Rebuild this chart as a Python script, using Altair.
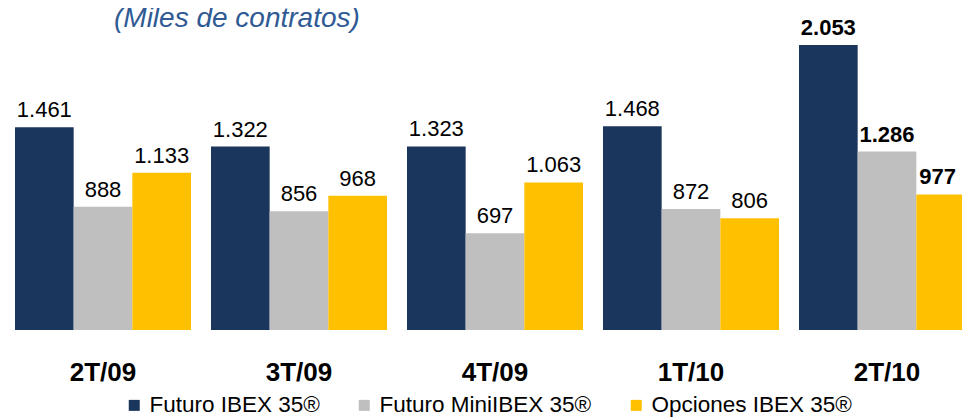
import altair as alt
import pandas as pd

quarters = ["2T/09", "3T/09", "4T/09", "1T/10", "2T/10"]
series = ["Futuro IBEX 35®", "Futuro MiniIBEX 35®", "Opciones IBEX 35®"]
futuro = [1461, 1322, 1323, 1468, 2053]
mini = [888, 856, 697, 872, 1286]
opciones = [1133, 968, 1063, 806, 977]
colors = ["#1B365D", "#BFBFBF", "#FFC000"]
bold_quarter = "2T/10"
subtitle = "(Miles de contratos)"

FONT = "Liberation Sans"

rows = []
for i, q in enumerate(quarters):
    for s, vals in zip(series, [futuro, mini, opciones]):
        v = vals[i]
        rows.append(dict(q=q, s=s, v=v,
                         label=f"{v:,}".replace(",", "."),
                         b=(q == bold_quarter),
                         edge=(q == bold_quarter and s == series[-1])))
df = pd.DataFrame(rows)

x = alt.X("q:N", sort=quarters, title=None,
          scale=alt.Scale(range=[7, 967], paddingInner=20 / 196, paddingOuter=0),
          axis=alt.Axis(domain=False, ticks=False, labelPadding=29, labelAngle=0,
                        labelFont=FONT, labelFontSize=26, labelFontWeight="bold",
                        labelColor="#000000"))
xo = alt.XOffset("s:N", sort=series, scale=alt.Scale(paddingInner=0, paddingOuter=0))
y = alt.Y("v:Q", title=None, scale=alt.Scale(domain=[0, 2320], nice=False),
          axis=None)

base = alt.Chart(df)

bars = base.mark_bar().encode(
    x=x, xOffset=xo, y=y,
    color=alt.Color("s:N", sort=series,
                    scale=alt.Scale(domain=series, range=colors),
                    legend=alt.Legend(title=None, orient="none", legendX=115, legendY=386,
                                      direction="horizontal", columns=3,
                                      symbolType="square", symbolSize=121,
                                      symbolStrokeWidth=0, columnPadding=33,
                                      labelOffset=4, labelFont=FONT, labelFontSize=22.5,
                                      labelLimit=0,
                                      labelColor="#000000", padding=0)),
)

labels_normal = base.transform_filter("!datum.b").mark_text(
    baseline="alphabetic", dy=-10, font=FONT, fontSize=22, color="#000000"
).encode(x=x, xOffset=xo, y=y, text="label:N")

labels_bold = base.transform_filter("datum.b && !datum.edge").mark_text(
    baseline="alphabetic", dy=-10, font=FONT, fontSize=22, fontWeight="bold",
    color="#000000"
).encode(x=x, xOffset=xo, y=y, text="label:N")

labels_edge = base.transform_filter("datum.edge").mark_text(
    baseline="alphabetic", dy=-10, dx=-8, font=FONT, fontSize=22, fontWeight="bold",
    color="#000000"
).encode(x=x, xOffset=xo, y=y, text="label:N")

title_df = pd.DataFrame({"t": [subtitle]})
title = alt.Chart(title_df).mark_text(align="left", baseline="alphabetic", font=FONT,
                                      fontSize=28, fontStyle="italic",
                                      color="#2F5A93").encode(
    x=alt.value(106), y=alt.value(19), text="t:N")

chart = alt.layer(bars, labels_normal, labels_bold, labels_edge, title).properties(
    width=954, height=322,
    autosize=alt.AutoSizeParams(type="none"),
    padding={"left": 0, "top": 0, "right": 0, "bottom": 88},
).configure_view(stroke=None)

chart.save("out.html", embed_options={"renderer": "svg", "actions": False})
